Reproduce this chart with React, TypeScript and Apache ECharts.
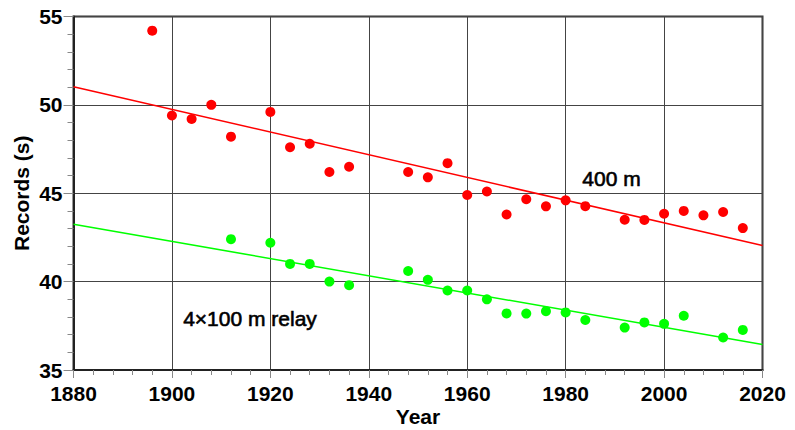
import React, { useEffect, useRef } from "react";
import * as echarts from "echarts";

// Olympic winning times, men's 400 m (seconds)
const years400 = [1896, 1900, 1904, 1908, 1912, 1920, 1924, 1928, 1932, 1936, 1948, 1952, 1956, 1960, 1964, 1968, 1972, 1976, 1980, 1984, 1992, 1996, 2000, 2004, 2008, 2012, 2016];
const times400 = [54.2, 49.4, 49.2, 50.0, 48.2, 49.6, 47.6, 47.8, 46.2, 46.5, 46.2, 45.9, 46.7, 44.9, 45.1, 43.8, 44.66, 44.26, 44.6, 44.27, 43.5, 43.49, 43.84, 44.0, 43.75, 43.94, 43.03];

// Olympic winning times, men's 4×100 m relay (seconds)
const yearsRelay = [1912, 1920, 1924, 1928, 1932, 1936, 1948, 1952, 1956, 1960, 1964, 1968, 1972, 1976, 1980, 1984, 1992, 1996, 2000, 2004, 2012, 2016];
const timesRelay = [42.4, 42.2, 41.0, 41.0, 40.0, 39.8, 40.6, 40.1, 39.5, 39.5, 39.0, 38.2, 38.19, 38.33, 38.26, 37.83, 37.4, 37.69, 37.61, 38.07, 36.84, 37.27];

// Linear trend lines, given by their ends
const trendYears = [1880, 2020];
const trend400 = [51.03, 42.04];
const trendRelay = [43.25, 36.44];

const label400 = "400 m";
const labelRelay = "4×100 m relay";

const FONT = "'Liberation Sans', Arial, Helvetica, sans-serif";

const pairs = (xs: number[], ys: number[]) => xs.map((x, i) => [x, ys[i]]);

export default function App() {
  const ref = useRef<HTMLDivElement>(null);

  useEffect(() => {
    if (!ref.current) return;
    const chart = echarts.init(ref.current, undefined, { renderer: "svg" });

    const labelFont = {
      fontFamily: FONT,
      fontSize: 21,
      fontWeight: "bold" as const,
      color: "#000",
    };
    const axisLine = { show: true, lineStyle: { color: "#222", width: 2 } };
    const splitLine = { show: true, lineStyle: { color: "#444", width: 1 } };
    const plain = (v: number) => String(v);

    chart.setOption({
      animation: false,
      backgroundColor: "#fff",
      grid: {
        left: 73.5,
        right: 32.5,
        top: 16.5,
        bottom: 60,
        containLabel: false,
        outerBoundsMode: "none",
        show: true,
        borderColor: "#333",
        borderWidth: 2,
        backgroundColor: "transparent",
      },
      xAxis: {
        type: "value",
        min: 1880,
        max: 2020,
        interval: 20,
        name: "Year",
        nameLocation: "middle",
        nameGap: 36,
        nameMoveOverlap: false,
        nameTextStyle: labelFont,
        axisLine,
        axisTick: { show: true, inside: false, length: 8, lineStyle: { color: "#888", width: 1 } },
        minorTick: { show: true, splitNumber: 5, length: 5, lineStyle: { color: "#888", width: 1 } },
        splitLine,
        axisLabel: { ...labelFont, margin: 13, formatter: plain },
      },
      yAxis: {
        type: "value",
        min: 35,
        max: 55,
        interval: 5,
        name: "Records (s)",
        nameLocation: "middle",
        nameGap: 42,
        nameMoveOverlap: false,
        nameTextStyle: labelFont,
        axisLine,
        axisTick: { show: true, inside: false, length: 10, lineStyle: { color: "#888", width: 1 } },
        minorTick: { show: true, splitNumber: 5, length: 6, lineStyle: { color: "#888", width: 1 } },
        splitLine,
        axisLabel: { ...labelFont, margin: 11, formatter: plain },
      },
      series: [
        {
          type: "line",
          data: pairs(trendYears, trend400),
          symbol: "none",
          lineStyle: { color: "#ff0000", width: 1.5 },
          z: 2,
        },
        {
          type: "line",
          data: pairs(trendYears, trendRelay),
          symbol: "none",
          lineStyle: { color: "#00ff00", width: 1.5 },
          z: 2,
        },
        {
          type: "scatter",
          data: pairs(years400, times400),
          symbol: "circle",
          symbolSize: 10,
          itemStyle: { color: "#ff0000", opacity: 1 },
          z: 3,
        },
        {
          type: "scatter",
          data: pairs(yearsRelay, timesRelay),
          symbol: "circle",
          symbolSize: 10,
          itemStyle: { color: "#00ff00", opacity: 1 },
          z: 3,
        },
      ],
      graphic: [
        {
          type: "text",
          x: 611.5,
          y: 178.5,
          style: {
            text: label400,
            fontFamily: FONT,
            fontSize: 21,
            fill: "#000",
            stroke: "#000",
            lineWidth: 0.6,
            textAlign: "center",
            textVerticalAlign: "middle",
          },
        },
        {
          type: "text",
          x: 250,
          y: 318.7,
          style: {
            text: labelRelay,
            fontFamily: FONT,
            fontSize: 21,
            fill: "#000",
            stroke: "#000",
            lineWidth: 0.6,
            textAlign: "center",
            textVerticalAlign: "middle",
          },
        },
      ],
    });

    return () => chart.dispose();
  }, []);

  return (
    <div
      ref={ref}
      style={{ position: "fixed", left: 0, top: 0, width: 795, height: 430, background: "#fff" }}
    />
  );
}
